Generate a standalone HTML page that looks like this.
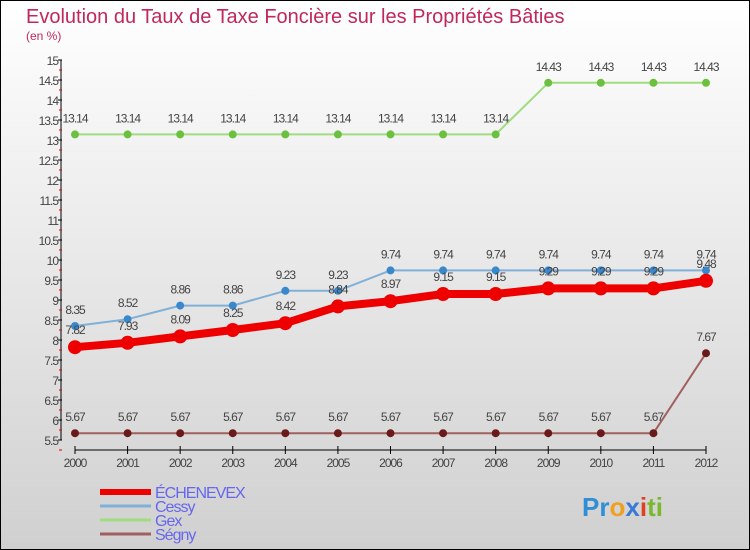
<!DOCTYPE html>
<html><head><meta charset="utf-8"><style>
body{margin:0}
svg{display:block;font-family:"Liberation Sans",sans-serif}
</style></head><body>
<svg width="750" height="550" viewBox="0 0 750 550">
<defs><linearGradient id="bg" x1="0" y1="0" x2="0" y2="1"><stop offset="0" stop-color="#ffffff"/><stop offset="1" stop-color="#d0d0d0"/></linearGradient></defs>
<rect x="0.5" y="0.5" width="749" height="549" fill="url(#bg)" stroke="#000"/>
<text x="26" y="23" font-size="20" fill="#c0285a">Evolution du Taux de Taxe Foncière sur les Propriétés Bâties</text>
<text x="26" y="40" font-size="12" fill="#c0285a">(en %)</text>
<g id="axes"></g>
<g id="series"></g>
<g id="legend"></g>
<g font-size="26" font-weight="bold">
<text x="582" y="516"><tspan fill="#2e8fd6">Pr</tspan><tspan fill="#f0a020">o</tspan><tspan fill="#3a7ad6">x</tspan><tspan fill="#e04020">i</tspan><tspan fill="#7ab830">ti</tspan></text>
</g>
</svg>
<script>
const years=[2000,2001,2002,2003,2004,2005,2006,2007,2008,2009,2010,2011,2012];
const echenevex=[7.82,7.93,8.09,8.25,8.42,8.84,8.97,9.15,9.15,9.29,9.29,9.29,9.48];
const cessy=[8.35,8.52,8.86,8.86,9.23,9.23,9.74,9.74,9.74,9.74,9.74,9.74,9.74];
const gex=[13.14,13.14,13.14,13.14,13.14,13.14,13.14,13.14,13.14,14.43,14.43,14.43,14.43];
const segny=[5.67,5.67,5.67,5.67,5.67,5.67,5.67,5.67,5.67,5.67,5.67,5.67,7.67];
const yTicks=[5.5,6,6.5,7,7.5,8,8.5,9,9.5,10,10.5,11,11.5,12,12.5,13,13.5,14,14.5,15];
const NS="http://www.w3.org/2000/svg";
const X=i=>75+i*(706-75)/(years.length-1);
const Y=v=>60+(15-v)*40;
function mk(t,a,p){const e=document.createElementNS(NS,t);for(const k in a)e.setAttribute(k,a[k]);p.appendChild(e);return e;}
const ax=document.getElementById('axes');
let yl=mk('line',{x1:61,y1:Y(15),x2:61,y2:Y(5.5),stroke:'#000'},ax);


yTicks.forEach(v=>{
 mk('line',{x1:58,y1:Y(v),x2:62,y2:Y(v),stroke:'#000'},ax);
 mk('line',{x1:59,y1:Y(v)+10,x2:62,y2:Y(v)+10,stroke:'#e00000'},ax);
 const t=mk('text',{x:58,y:Y(v)+5,'font-size':12,'text-anchor':'end',fill:'#444','letter-spacing':'-1'},ax);
 t.textContent=v;
 
 
});
let xl=mk('line',{x1:X(0),y1:450,x2:X(12),y2:450,stroke:'#000'},ax);


years.forEach((yr,i)=>{
 mk('line',{x1:X(i),y1:446,x2:X(i),y2:454,stroke:'#000'},ax);
 const t=mk('text',{x:X(i),y:467,'font-size':12,'text-anchor':'middle',fill:'#444','letter-spacing':'-1'},ax);
 t.textContent=yr;
 
 
});
const sg=document.getElementById('series');
function series(name,data,lc,pc,w,r,labOff){
 const g=mk('g',{},sg);
 
 
 mk('polyline',{points:data.map((v,i)=>X(i)+','+Y(v)).join(' '),fill:'none',stroke:lc,'stroke-width':w,'stroke-linejoin':'round'},g);
 data.forEach((v,i)=>{
  const c=mk('circle',{cx:X(i),cy:Y(v),r:r,fill:pc},g);
  
  
  const t=mk('text',{x:X(i),y:Y(v)+labOff,'font-size':12,'text-anchor':'middle',fill:'#444','letter-spacing':'-1'},g);
  t.textContent=v;
  
  
 });
}
series('gex',gex,'#a0dc80','#6cc040',2,4,-12);
series('cessy',cessy,'#80b0d8','#3a88cc',2,4,-12);
series('segny',segny,'#a06060','#6a1a1a',2,4,-12);
series('echenevex',echenevex,'#ee0000','#ee0000',8,7,-13);
const lg=document.getElementById('legend');
const items=[['ÉCHENEVEX','#ee0000',6],['Cessy','#80b0d8',3],['Gex','#a0dc80',3],['Ségny','#a06060',3]];
items.forEach((it,i)=>{
 const y=492+i*14;
 mk('line',{x1:100,y1:y,x2:151,y2:y,stroke:it[1],'stroke-width':it[2]},lg);
 const t=mk('text',{x:155,y:y+6,'font-size':16,fill:'#6666ee','letter-spacing':'-1'},lg);
 t.textContent=it[0];
 
 
});
</script>
</body></html>
